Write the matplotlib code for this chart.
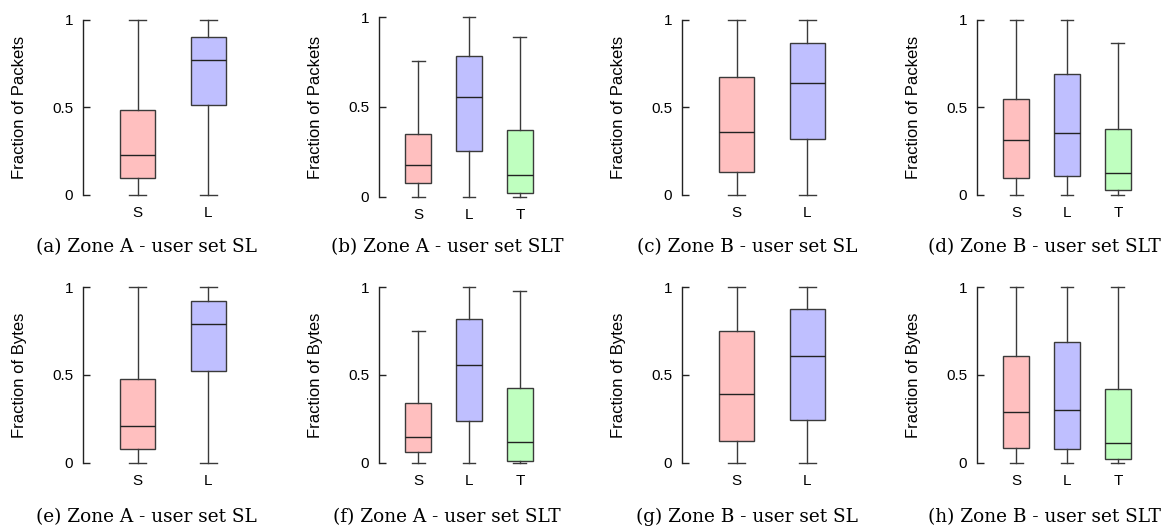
import matplotlib
matplotlib.use("Agg")
import matplotlib.pyplot as plt

# ---- data: [whisker low, Q1, median, Q3, whisker high] per category ----
cats_sl = ["S", "L"]
cats_slt = ["S", "L", "T"]

a_S = [0.0, 0.095, 0.229, 0.484, 1.0]
a_L = [0.0, 0.514, 0.770, 0.901, 1.0]

b_S = [0.0, 0.076, 0.177, 0.351, 0.753]
b_L = [0.0, 0.258, 0.553, 0.786, 1.0]
b_T = [0.0, 0.022, 0.122, 0.371, 0.889]

c_S = [0.0, 0.133, 0.360, 0.676, 1.0]
c_L = [0.0, 0.322, 0.642, 0.867, 1.0]

d_S = [0.0, 0.097, 0.312, 0.548, 1.0]
d_L = [0.0, 0.110, 0.354, 0.692, 1.0]
d_T = [0.0, 0.029, 0.124, 0.375, 0.871]

e_S = [0.0, 0.076, 0.207, 0.475, 1.0]
e_L = [0.0, 0.521, 0.793, 0.924, 1.0]

f_S = [0.0, 0.059, 0.146, 0.342, 0.751]
f_L = [0.0, 0.240, 0.557, 0.821, 1.0]
f_T = [0.0, 0.011, 0.116, 0.424, 0.981]

g_S = [0.0, 0.124, 0.390, 0.753, 1.0]
g_L = [0.0, 0.245, 0.610, 0.876, 1.0]

h_S = [0.0, 0.086, 0.288, 0.606, 1.0]
h_L = [0.0, 0.076, 0.299, 0.690, 1.0]
h_T = [0.0, 0.019, 0.114, 0.419, 1.0]

captions = [
    "(a) Zone A - user set SL", "(b) Zone A - user set SLT",
    "(c) Zone B - user set SL", "(d) Zone B - user set SLT",
    "(e) Zone A - user set SL", "(f) Zone A - user set SLT",
    "(g) Zone B - user set SL", "(h) Zone B - user set SLT",
]
ylabels = ["Fraction of Packets"] * 4 + ["Fraction of Bytes"] * 4
yticks = [0, 0.5, 1]
yticklabels = ["0", "0.5", "1"]

panels = [
    (cats_sl, [a_S, a_L]),
    (cats_slt, [b_S, b_L, b_T]),
    (cats_sl, [c_S, c_L]),
    (cats_slt, [d_S, d_L, d_T]),
    (cats_sl, [e_S, e_L]),
    (cats_slt, [f_S, f_L, f_T]),
    (cats_sl, [g_S, g_L]),
    (cats_slt, [h_S, h_L, h_T]),
]

colors = {"S": "#ffbfbf", "L": "#bfbfff", "T": "#bfffbf"}
edge = "#3a3a3a"

W, H = 1172, 529
fig = plt.figure(figsize=(W / 100, H / 100), dpi=100)

left_px = [83, 379, 682, 977]
cap_x = [146, 447, 747, 1044]
row_y = [(20, 195), (287.3, 462.7)]
cap_y = [247, 517]
ax_w = 180

for i, (cats, stats) in enumerate(panels):
    r, c = divmod(i, 4)
    top, bot = row_y[r]
    if i == 1:
        top, bot = 17, 197
    ax = fig.add_axes([left_px[c] / W, 1 - bot / H, ax_w / W, (bot - top) / H])
    n = len(cats)
    bxp_stats = []
    for name, s in zip(cats, stats):
        bxp_stats.append(dict(whislo=s[0], q1=s[1], med=s[2], q3=s[3], whishi=s[4],
                              fliers=[], label=name))
    bp = ax.bxp(bxp_stats, positions=list(range(1, n + 1)), widths=0.5,
                patch_artist=True, showfliers=False,
                boxprops=dict(linewidth=1.0, edgecolor=edge),
                medianprops=dict(color="#222222", linewidth=1.0),
                whiskerprops=dict(color=edge, linewidth=1.0),
                capprops=dict(color=edge, linewidth=1.0),
                capwidths=0.25)
    for patch, name in zip(bp["boxes"], cats):
        patch.set_facecolor(colors[name])
    for art in bp["whiskers"] + bp["caps"] + bp["medians"] + bp["boxes"]:
        art.set_clip_on(False)
    ax.set_xlim(0.23, n + 0.77)
    ax.set_ylim(0, 1)
    for sp in ["top", "right", "bottom"]:
        ax.spines[sp].set_visible(False)
    ax.spines["left"].set_color("#222222")
    ax.spines["left"].set_linewidth(1.0)
    ax.set_yticks(yticks)
    ax.set_yticklabels(yticklabels, family="Liberation Sans", fontsize=11)
    ax.tick_params(axis="y", direction="in", length=5, width=1.0, pad=7, color="#222222")
    ax.set_xticks(list(range(1, n + 1)))
    ax.set_xticklabels(cats, family="Liberation Sans", fontsize=11)
    ax.tick_params(axis="x", length=0, pad=8)
    ax.set_ylabel(ylabels[i], family="Liberation Sans", fontsize=12, labelpad=18)
    ax.patch.set_alpha(0)
    fig.text(cap_x[c] / W, 1 - cap_y[r] / H, captions[i], ha="center", va="center",
             family="DejaVu Serif", fontsize=13.3)

fig.savefig("out.png", dpi=100)
